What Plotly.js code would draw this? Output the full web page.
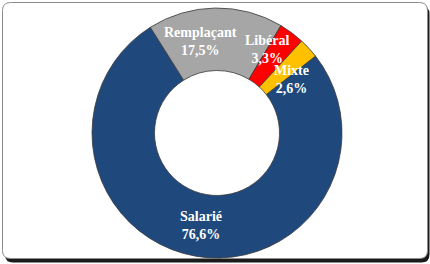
<!DOCTYPE html>
<html>
<head>
<meta charset="utf-8">
<script src="https://cdn.plot.ly/plotly-3.0.1.min.js"></script>
<style>html,body{margin:0;padding:0;background:#fff;}#chart{width:430px;height:264px;}</style>
</head>
<body>
<div id="chart"></div>
<script>
// ---- data ----
const categories = ["Salarié", "Remplaçant", "Libéral", "Mixte"];
const values = [76.6, 17.5, 3.3, 2.6];
const valueLabels = ["76,6%", "17,5%", "3,3%", "2,6%"];

// ---- styling ----
const colors = ["#1F497D", "#A6A6A6", "#FF0000", "#FFC000"];
const W = 430, H = 264;
const cx = 217, cy = 133, R = 125, hole = 0.5;
const rotation = 52;
const labelRadius = 93;
const labelNudge = [[0, 1], [-15, 1], [-6, -9], [6, 10]];

function px(x) { return x / W; }
function py(y) { return 1 - y / H; }
function roundRect(x0, y0, x1, y1, r) {
  const p = (x, y) => px(x) + "," + py(y);
  return "M" + p(x0 + r, y0) + " L" + p(x1 - r, y0) + " Q" + p(x1, y0) + " " + p(x1, y0 + r) +
    " L" + p(x1, y1 - r) + " Q" + p(x1, y1) + " " + p(x1 - r, y1) +
    " L" + p(x0 + r, y1) + " Q" + p(x0, y1) + " " + p(x0, y1 - r) +
    " L" + p(x0, y0 + r) + " Q" + p(x0, y0) + " " + p(x0 + r, y0) + " Z";
}

// label positions computed from slice mid-angles
const total = values.reduce((a, b) => a + b, 0);
let cum = 0;
const annotations = categories.map((c, i) => {
  const mid = rotation + (cum + values[i] / 2) / total * 360;
  cum += values[i];
  const a = mid * Math.PI / 180;
  const x = cx + labelRadius * Math.sin(a) + labelNudge[i][0];
  const y = cy - labelRadius * Math.cos(a) + labelNudge[i][1];
  return {
    x: px(x), y: py(y), xref: "paper", yref: "paper",
    xanchor: "center", yanchor: "middle", showarrow: false,
    text: "<b>" + c + "<br>" + valueLabels[i] + "</b>",
    font: { family: "Liberation Serif, serif", size: 14, color: "#FFFFFF" }
  };
});

const trace = {
  type: "pie",
  labels: categories,
  values: values,
  hole: hole,
  sort: false,
  direction: "clockwise",
  rotation: rotation,
  textinfo: "none",
  marker: { colors: colors, line: { color: "#3a3a3a", width: 0.8 } },
  domain: { x: [px(cx - R), px(cx + R)], y: [py(cy + R), py(cy - R)] },
  showlegend: false,
  hoverinfo: "label+percent"
};

const layout = {
  width: W, height: H,
  margin: { l: 0, r: 0, t: 0, b: 0 },
  paper_bgcolor: "#FFFFFF",
  plot_bgcolor: "#FFFFFF",
  showlegend: false,
  shapes: [
    { type: "path", xref: "paper", yref: "paper", layer: "below",
      path: roundRect(5, 6, 429.5, 262.5, 8), fillcolor: "#1a1a1a", line: { width: 0 } },
    { type: "path", xref: "paper", yref: "paper", layer: "below",
      path: roundRect(2.5, 2.5, 427.5, 258.5, 8), fillcolor: "#FFFFFF", line: { color: "#8c8c8c", width: 1 } }
  ],
  annotations: annotations
};

Plotly.newPlot("chart", [trace], layout, { displayModeBar: false, staticPlot: true });
</script>
</body>
</html>
